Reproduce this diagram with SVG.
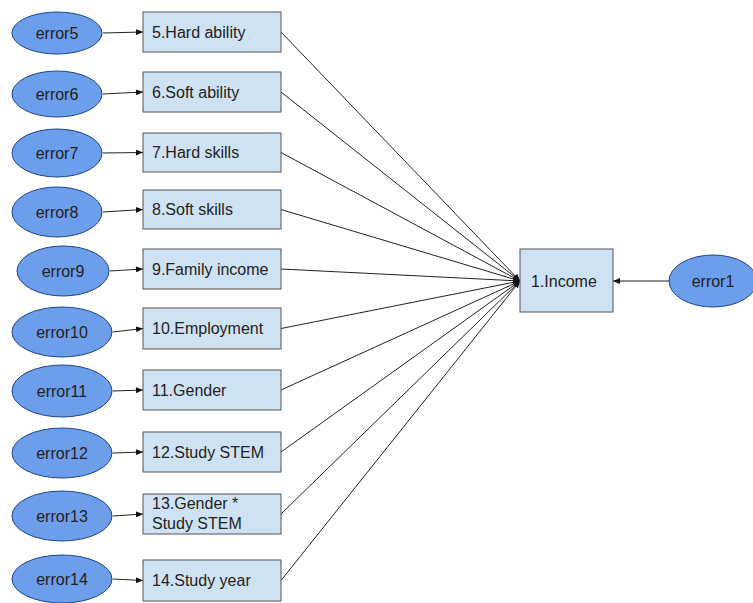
<svg xmlns="http://www.w3.org/2000/svg" width="753" height="603" viewBox="0 0 753 603">
<defs>
<marker id="arr" markerWidth="7" markerHeight="6" refX="7" refY="3" orient="auto" markerUnits="userSpaceOnUse">
<path d="M0,0 L7,3 L0,6 Z" fill="#111"/>
</marker>
<style>
.err ellipse{fill:#6d9eeb;stroke:#1c4587;stroke-width:1}
.box rect{fill:#cfe2f3;stroke:#555;stroke-width:1}
text{font-family:"Liberation Sans",Arial,sans-serif;font-size:16px;fill:#222}
.err text{text-anchor:middle}
#connectors line{stroke:#222;stroke-width:1;marker-end:url(#arr)}
</style>
</defs>
<rect width="753" height="603" fill="#fff"/>
<g id="connectors">
<line x1="103" y1="33" x2="143" y2="32"/>
<line x1="103" y1="94" x2="143" y2="92"/>
<line x1="103" y1="153" x2="143" y2="152.5"/>
<line x1="103" y1="212" x2="143" y2="209.5"/>
<line x1="110" y1="271" x2="143" y2="269"/>
<line x1="113" y1="332" x2="143" y2="328.5"/>
<line x1="113" y1="391" x2="143" y2="390"/>
<line x1="113" y1="453" x2="143" y2="452"/>
<line x1="113" y1="516" x2="143" y2="514"/>
<line x1="113" y1="579" x2="143" y2="580.5"/>
<line x1="281" y1="32" x2="520" y2="281"/>
<line x1="281" y1="92" x2="520" y2="281"/>
<line x1="281" y1="152.5" x2="520" y2="281"/>
<line x1="281" y1="209.5" x2="520" y2="281"/>
<line x1="281" y1="269" x2="520" y2="281"/>
<line x1="281" y1="328.5" x2="520" y2="281"/>
<line x1="281" y1="390" x2="520" y2="281"/>
<line x1="281" y1="452" x2="520" y2="281"/>
<line x1="281" y1="514" x2="520" y2="281"/>
<line x1="281" y1="580.5" x2="520" y2="281"/>
<line x1="669" y1="281" x2="613" y2="281"/>
</g>
<g id="error5" class="err"><ellipse cx="57" cy="33" rx="45" ry="21"/><text x="57" y="39">error5</text></g>
<g id="error6" class="err"><ellipse cx="57" cy="94" rx="45" ry="23"/><text x="57" y="100">error6</text></g>
<g id="error7" class="err"><ellipse cx="57" cy="153" rx="45" ry="24"/><text x="57" y="159">error7</text></g>
<g id="error8" class="err"><ellipse cx="57" cy="212" rx="45" ry="25"/><text x="57" y="218">error8</text></g>
<g id="error9" class="err"><ellipse cx="63" cy="271" rx="46" ry="25"/><text x="63" y="277">error9</text></g>
<g id="error10" class="err"><ellipse cx="62" cy="332" rx="50" ry="25"/><text x="62" y="338">error10</text></g>
<g id="error11" class="err"><ellipse cx="62" cy="391" rx="50" ry="26"/><text x="62" y="397">error11</text></g>
<g id="error12" class="err"><ellipse cx="62" cy="453" rx="50" ry="25"/><text x="62" y="459">error12</text></g>
<g id="error13" class="err"><ellipse cx="62" cy="516" rx="50" ry="25"/><text x="62" y="522">error13</text></g>
<g id="error14" class="err"><ellipse cx="62" cy="579" rx="50" ry="24"/><text x="62" y="585">error14</text></g>
<g id="error1" class="err"><ellipse cx="713" cy="281" rx="44" ry="26"/><text x="713" y="287">error1</text></g>
<g id="n5" class="box"><rect x="143" y="12" width="138" height="40"/><text x="152" y="38">5.Hard ability</text></g>
<g id="n6" class="box"><rect x="143" y="72" width="138" height="40"/><text x="152" y="98">6.Soft ability</text></g>
<g id="n7" class="box"><rect x="143" y="133" width="138" height="39"/><text x="152" y="158">7.Hard skills</text></g>
<g id="n8" class="box"><rect x="143" y="190" width="138" height="39"/><text x="152" y="215">8.Soft skills</text></g>
<g id="n9" class="box"><rect x="143" y="249" width="138" height="40"/><text x="152" y="275">9.Family income</text></g>
<g id="n10" class="box"><rect x="143" y="308" width="138" height="41"/><text x="152" y="334">10.Employment</text></g>
<g id="n11" class="box"><rect x="143" y="370" width="138" height="40"/><text x="152" y="396">11.Gender</text></g>
<g id="n12" class="box"><rect x="143" y="432" width="138" height="40"/><text x="152" y="458">12.Study STEM</text></g>
<g id="n13" class="box"><rect x="143" y="494" width="138" height="40"/><text x="152" y="509">13.Gender *</text><text x="152" y="529">Study STEM</text></g>
<g id="n14" class="box"><rect x="143" y="560" width="138" height="41"/><text x="152" y="586">14.Study year</text></g>
<g id="n1" class="box"><rect x="520" y="249" width="93" height="63"/><text x="531" y="287">1.Income</text></g>
</svg>
